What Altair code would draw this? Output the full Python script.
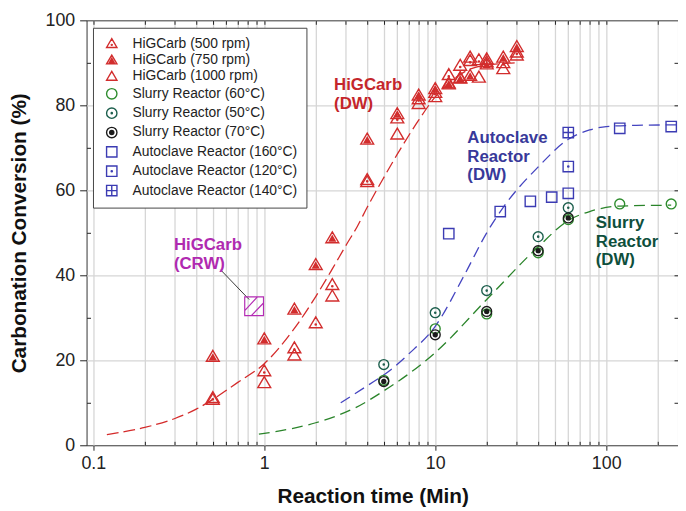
import altair as alt
import pandas as pd

# ---------------- data ----------------
series_names = [
    "HiGCarb (500 rpm)", "HiGCarb (750 rpm)", "HiGCarb (1000 rpm)",
    "Slurry Reactor (60°C)", "Slurry Reactor (50°C)", "Slurry Reactor (70°C)",
    "Autoclave Reactor (160°C)", "Autoclave Reactor (120°C)", "Autoclave Reactor (140°C)",
]

h500_x = [0.5, 1, 1.5, 2, 2.5, 4, 6, 8, 10, 12, 14, 16, 18, 20, 25, 30]
h500_y = [11.2, 17.5, 22.9, 28.8, 37.8, 62.5, 77.0, 81.5, 83.0, 87.2, 89.4, 90.5, 90.7, 90.9, 90.0, 92.5]
h750_x = [0.5, 1, 1.5, 2, 2.5, 4, 6, 8, 10, 12, 14, 16, 20, 25, 30]
h750_y = [20.9, 25.0, 32.0, 42.5, 48.8, 72.0, 78.0, 82.4, 83.9, 85.2, 86.4, 87.0, 89.7, 91.3, 93.8]
h1000_x = [0.5, 1, 1.5, 2.5, 4, 6, 8, 10, 12, 14, 16, 18, 20, 25, 30]
h1000_y = [10.8, 14.7, 21.2, 35.1, 62.0, 73.2, 80.4, 82.0, 85.0, 86.5, 91.3, 86.6, 90.2, 88.6, 91.8]

s60_x = [5, 10, 20, 40, 60, 120, 240]
s60_y = [15.3, 27.4, 30.9, 45.3, 53.1, 56.8, 56.8]
s50_x = [5, 10, 20, 40, 60]
s50_y = [19.0, 31.2, 36.4, 49.1, 55.9]
s70_x = [5, 10, 20, 40, 60]
s70_y = [15.0, 26.0, 31.5, 45.8, 53.5]

a160_x = [12, 24, 36, 48, 60, 120, 240]
a160_y = [49.8, 55.0, 57.4, 58.4, 59.3, 74.6, 75.0]
a120_x = [60]
a120_y = [65.6]
a140_x = [60]
a140_y = [73.6]

# model curves (DW)
hig_curve_x = [0.12, 0.2, 0.3, 0.4, 0.5, 0.7, 1.0, 1.5, 2.0, 2.5, 3.0, 3.5, 4.0, 5.0, 6.0, 8.0, 10, 12, 15, 20, 30]
hig_curve_y = [2.5, 4.2, 6.3, 8.5, 10.8, 14.8, 19.2, 27.5, 35.0, 41.5, 47.0, 51.5, 56.0, 63.0, 68.5, 76.5, 82.0, 85.2, 88.0, 89.5, 90.0]
auto_curve_x = [2.8, 4, 5.5, 7, 10, 15, 20, 25, 40, 60, 80, 100, 150, 260]
auto_curve_y = [10.0, 14.0, 17.8, 21.5, 28.0, 40.5, 50.0, 56.0, 65.5, 72.0, 74.2, 75.0, 75.3, 75.4]
slurry_curve_x = [0.93, 2, 2.6, 3.4, 5, 10, 20, 40, 60, 80, 120, 240]
slurry_curve_y = [2.6, 5.3, 6.8, 8.8, 12.8, 21.8, 34.3, 46.7, 52.9, 55.0, 56.3, 56.5]

# CRW point and annotation
crw_x = [0.872]
crw_y = [32.7]
leader_x = [0.555]
leader_y = [41.3]
leader_x2 = [0.816]
leader_y2 = [34.3]

ann_text = ["HiGCarb\n(CRW)", "HiGCarb\n(DW)", "Autoclave\nReactor\n(DW)", "Slurry\nReactor\n(DW)"]
ann_x = [0.296, 2.56, 15.4, 86.9]
ann_y = [49.0, 86.6, 74.2, 54.2]
ann_color = ["#b02ab0", "#c4262b", "#38399a", "#0e4f3c"]

# ---------------- styles ----------------
RED = "#d22d2d"
BLUE = "#3b3bb3"
G60 = "#2d8c2d"
G50 = "#1b5e4c"
BLK = "#1a1a1a"

series_colors = [RED, RED, RED, G60, G50, BLK, BLUE, BLUE, BLUE]

TRI = "M0,-0.95L1,0.75L-1,0.75Z"
DOT_T = "M-0.1,0.25a0.1,0.1 0 1,0 0.2,0a0.1,0.1 0 1,0 -0.2,0"
CIRC = "M-1,0a1,1 0 1,0 2,0a1,1 0 1,0 -2,0"
DOT_C = "M-0.12,0a0.12,0.12 0 1,0 0.24,0a0.12,0.12 0 1,0 -0.24,0"
SQ = "M-1,-1L1,-1L1,1L-1,1Z"
series_shapes = [
    TRI + " " + DOT_T,
    TRI + " M0,-0.3L0.45,0.5L-0.45,0.5Z M0,-0.05L0.22,0.35L-0.22,0.35Z",
    TRI,
    CIRC,
    CIRC + " " + DOT_C,
    CIRC + " M-0.4,0a0.4,0.4 0 1,0 0.8,0a0.4,0.4 0 1,0 -0.8,0 M-0.15,0a0.15,0.15 0 1,0 0.3,0a0.15,0.15 0 1,0 -0.3,0",
    SQ,
    SQ + " " + DOT_C,
    SQ + " M0,-1L0,1M-1,0L1,0",
]
series_sizes = [169, 169, 169, 100, 100, 100, 110, 110, 110]
CRW_SHAPE = SQ + " M-1,0.45L0.35,-1M-0.3,1L1,-0.35"

all_x = [h500_x, h750_x, h1000_x, s60_x, s50_x, s70_x, a160_x, a120_x, a140_x]
all_y = [h500_y, h750_y, h1000_y, s60_y, s50_y, s70_y, a160_y, a120_y, a140_y]
rows = []
for name, sz, xs_, ys_ in zip(series_names, series_sizes, all_x, all_y):
    for a, b in zip(xs_, ys_):
        rows.append({"series": name, "t": a, "conv": b, "sz": sz})
pts = pd.DataFrame(rows)

hig_df = pd.DataFrame({"t": hig_curve_x, "conv": hig_curve_y})
auto_df = pd.DataFrame({"t": auto_curve_x, "conv": auto_curve_y})
slur_df = pd.DataFrame({"t": slurry_curve_x, "conv": slurry_curve_y})
crw_df = pd.DataFrame({"t": crw_x, "conv": crw_y})
lead_df = pd.DataFrame({"t": leader_x, "conv": leader_y, "t2": leader_x2, "conv2": leader_y2})
ann_df = pd.DataFrame({"t": ann_x, "conv": ann_y, "label": ann_text, "col": ann_color})

# ---------------- layout ----------------
W, H = 598.5, 430
FONT = "Liberation Sans"
xscale = alt.Scale(type="log", domain=[0.0913, 263], nice=False)
yscale = alt.Scale(domain=[0, 100], nice=False, zero=False)

major_x = [0.1, 1, 10, 100]
minor_x = [0.2, 0.3, 0.4, 0.5, 0.6, 0.7, 0.8, 0.9,
           2, 3, 4, 5, 6, 7, 8, 9,
           20, 30, 40, 50, 60, 70, 80, 90, 200]
grid_x = sorted(major_x + minor_x)

def no_axis_parts(**kw):
    base = dict(domain=False, labels=False, title=None, grid=False, ticks=False)
    base.update(kw)
    return alt.Axis(**base)

legend = alt.Legend(
    title=None, orient="none", legendX=6.5, legendY=7.5,
    fillColor="white", strokeColor="#444444", padding=9,
    symbolOffset=3, labelOffset=14, labelFontSize=14, labelFont=FONT,
    labelColor="#222222", labelLimit=400, rowPadding=1.6, symbolSize=110, symbolStrokeWidth=1.4,
    zindex=1,
)

points = alt.Chart(pts).mark_point(filled=False, strokeWidth=1.4, opacity=1).encode(
    x=alt.X("t:Q", scale=xscale, axis=alt.Axis(
        orient="bottom", offset=0, values=major_x, format="~g", grid=False, domain=False,
        ticks=True, tickSize=5, tickColor="#222222", tickWidth=1,
        labelFontSize=18, labelFont=FONT, labelColor="#222222", labelPadding=5,
        title="Reaction time (Min)", titleFont=FONT, titleFontSize=21, titleFontWeight="bold",
        titleColor="#111111", titleX=289.5, titleY=58, titleBaseline="alphabetic", titleAlign="center")),
    y=alt.Y("conv:Q", scale=yscale, axis=alt.Axis(
        orient="left", offset=0, values=[0, 20, 40, 60, 80, 100], grid=False, domain=False,
        ticks=True, tickSize=7, tickColor="#222222", tickWidth=1,
        labelFontSize=18, labelFont=FONT, labelColor="#222222", labelPadding=5,
        title="Carbonation Conversion (%)", titleFont=FONT, titleFontSize=21, titleFontWeight="bold",
        titleColor="#111111", titleX=-61.5, titleY=215, titleBaseline="alphabetic", titleAlign="center",
        titleAngle=270)),
    color=alt.Color("series:N", scale=alt.Scale(domain=series_names, range=series_colors), legend=legend),
    shape=alt.Shape("series:N", scale=alt.Scale(domain=series_names, range=series_shapes), legend=legend),
    size=alt.Size("sz:Q", scale=None),
)

hig_line = alt.Chart(hig_df).mark_line(color="#d42a2a", strokeWidth=1.3, strokeDash=[12, 5], interpolate="monotone").encode(
    x=alt.X("t:Q", scale=xscale, axis=no_axis_parts(orient="bottom", offset=0, values=grid_x, grid=True,
                                                    gridColor="#d6d6d6", gridWidth=1.3)),
    y=alt.Y("conv:Q", scale=yscale, axis=no_axis_parts(orient="left", offset=0, values=[20, 40, 60, 80], grid=True,
                                                       gridColor="#d6d6d6", gridWidth=1.3)),
)

auto_line = alt.Chart(auto_df).mark_line(color="#4444c0", strokeWidth=1.3, strokeDash=[11, 6], interpolate="monotone").encode(
    x=alt.X("t:Q", scale=xscale, axis=no_axis_parts(orient="top", offset=-H, values=minor_x, ticks=True,
                                                    tickSize=4, tickColor="#222222", tickWidth=1)),
    y=alt.Y("conv:Q", scale=yscale, axis=no_axis_parts(orient="left", offset=-W, values=[10, 20, 30, 40, 50, 60, 70, 80, 90],
                                                       ticks=True, tickSize=4, tickColor="#222222", tickWidth=1)),
)

slur_line = alt.Chart(slur_df).mark_line(color="#2a842a", strokeWidth=1.3, strokeDash=[11, 6], interpolate="monotone").encode(
    x=alt.X("t:Q", scale=xscale, axis=no_axis_parts(orient="bottom", offset=-H, values=grid_x, ticks=True,
                                                    tickSize=4, tickColor="#222222", tickWidth=1)),
    y=alt.Y("conv:Q", scale=yscale, axis=no_axis_parts(orient="right", offset=-W, values=[10, 30, 50, 70, 90],
                                                       ticks=True, tickSize=4, tickColor="#222222", tickWidth=1)),
)

leader = alt.Chart(lead_df).mark_rule(color="#222222", strokeWidth=0.9).encode(
    x=alt.X("t:Q", scale=xscale, axis=None),
    y=alt.Y("conv:Q", scale=yscale, axis=None),
    x2="t2:Q", y2="conv2:Q",
)

crw = alt.Chart(crw_df).mark_point(shape=CRW_SHAPE, size=361, filled=False, color="#b42db4",
                                   strokeWidth=1.2, opacity=1).encode(
    x=alt.X("t:Q", scale=xscale, axis=None),
    y=alt.Y("conv:Q", scale=yscale, axis=None),
)

ann = alt.Chart(ann_df).mark_text(align="left", baseline="top", font=FONT, fontSize=17, fontWeight="bold",
                                  lineBreak="\n", lineHeight=19).encode(
    x=alt.X("t:Q", scale=xscale, axis=None),
    y=alt.Y("conv:Q", scale=yscale, axis=None),
    text="label:N",
    color=alt.Color("col:N", scale=None),
)

chart = alt.layer(hig_line, auto_line, slur_line, leader, crw, ann, points).resolve_axis(
    x="independent", y="independent"
).properties(
    width=W, height=H,
    autosize=alt.AutoSizeParams(type="none"),
    padding={"left": 79.5, "top": 9.5, "right": 0, "bottom": 62},
).configure_view(stroke="#333333", strokeWidth=1)

chart.save("out.html", embed_options={"renderer": "svg", "actions": False})
